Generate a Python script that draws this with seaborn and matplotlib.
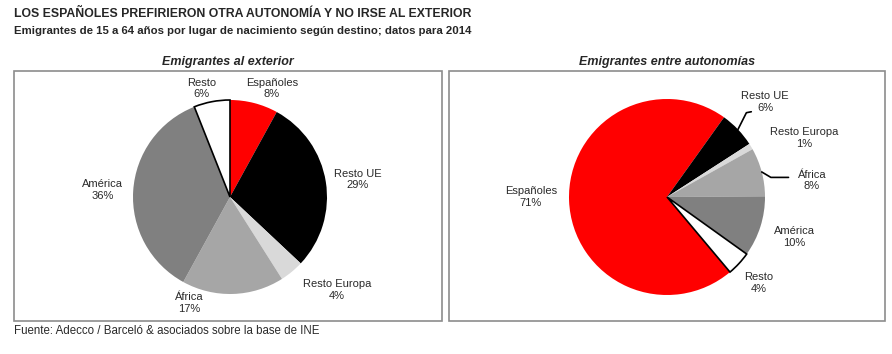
import seaborn as sns
import matplotlib.pyplot as plt
from matplotlib.patches import Rectangle
import numpy as np

# data
categories = ["Españoles", "Resto UE", "Resto Europa", "África", "América", "Resto"]
exterior = [8, 29, 4, 17, 36, 6]
autonomias = [71, 6, 1, 8, 10, 4]
colors = ["#ff0000", "#000000", "#d9d9d9", "#a6a6a6", "#808080", "#ffffff"]

title = "LOS ESPAÑOLES PREFIRIERON OTRA AUTONOMÍA Y NO IRSE AL EXTERIOR"
subtitle = "Emigrantes de 15 a 64 años por lugar de nacimiento según destino; datos para 2014"
source = "Fuente: Adecco / Barceló & asociados sobre la base de INE"

# label positions (in pie-radius units), layout only
pos_left = [(0.43, 1.12), (1.32, 0.18), (1.10, -0.96), (-0.42, -1.09), (-1.31, 0.07), (-0.29, 1.12)]
pos_right = [(-1.39, 0.0), (1.0, 0.97), (1.40, 0.60), (1.48, 0.17), (1.30, -0.41), (0.94, -0.88)]
# leader lines: bend point and end point
leaders = {1: [(0.81, 0.86), (0.86, 0.87)], 3: [(1.06, 0.20), (1.24, 0.20)]}

sns.set_theme(style="white")
narrow = ["Liberation Sans Narrow", "Liberation Sans", "DejaVu Sans"]
plt.rcParams["font.family"] = ["Liberation Sans", "DejaVu Sans"]

W, H = 892, 354
fig = plt.figure(figsize=(8.92, 3.54), dpi=100)


def panel(box, center, r, values, start, positions, name, lead=None):
    x0, y0, x1, y1 = box
    ax = fig.add_axes([x0 / W, 1 - y1 / H, (x1 - x0) / W, (y1 - y0) / H])
    wedges, _ = ax.pie(values, colors=colors, startangle=start, counterclock=False,
                       wedgeprops=dict(linewidth=0))
    wedges[-1].set_edgecolor("black")
    wedges[-1].set_linewidth(1.2)
    cx, cy = center
    ax.set_aspect("auto")
    ax.set_xlim(-(cx - x0) / r, (x1 - cx) / r)
    ax.set_ylim(-(y1 - cy) / r, (cy - y0) / r)
    for i, (cat, v) in enumerate(zip(categories, values)):
        px, py = positions[i]
        ax.text(px, py, f"{cat}\n{v}%", ha="center", va="center", fontsize=8,
                family=narrow, color="#2a2a2a", linespacing=1.2)
    if lead:
        for i, pts in lead.items():
            w = wedges[i]
            ang = np.deg2rad((w.theta1 + w.theta2) / 2)
            xs = [np.cos(ang)] + [p[0] for p in pts]
            ys = [np.sin(ang)] + [p[1] for p in pts]
            ax.plot(xs, ys, color="black", lw=1.2)
    ax.add_patch(Rectangle((0, 0), 1, 1, transform=ax.transAxes, fill=False,
                           edgecolor="#8c8c8c", lw=1.2, clip_on=False))
    ax.set_axis_off()
    fig.text(((x0 + x1) / 2) / W, 1 - 62 / H, name, ha="center", va="center",
             fontsize=9, fontweight="bold", fontstyle="italic")
    return ax


panel((14, 71, 442, 321), (230, 197), 97, exterior, 90, pos_left, "Emigrantes al exterior")
panel((449, 71, 885, 321), (667, 197), 98, autonomias, -50, pos_right,
      "Emigrantes entre autonomías", leaders)

fig.text(14 / W, 1 - 14 / H, title, ha="left", va="center", fontsize=8.8, fontweight="bold")
fig.text(14 / W, 1 - 31 / H, subtitle, ha="left", va="center", fontsize=8.2, fontweight="bold")
fig.text(14 / W, 1 - 331 / H, source, ha="left", va="center", fontsize=8.3, family=narrow,
         color="#2a2a2a")

fig.savefig("out.png", dpi=100)
